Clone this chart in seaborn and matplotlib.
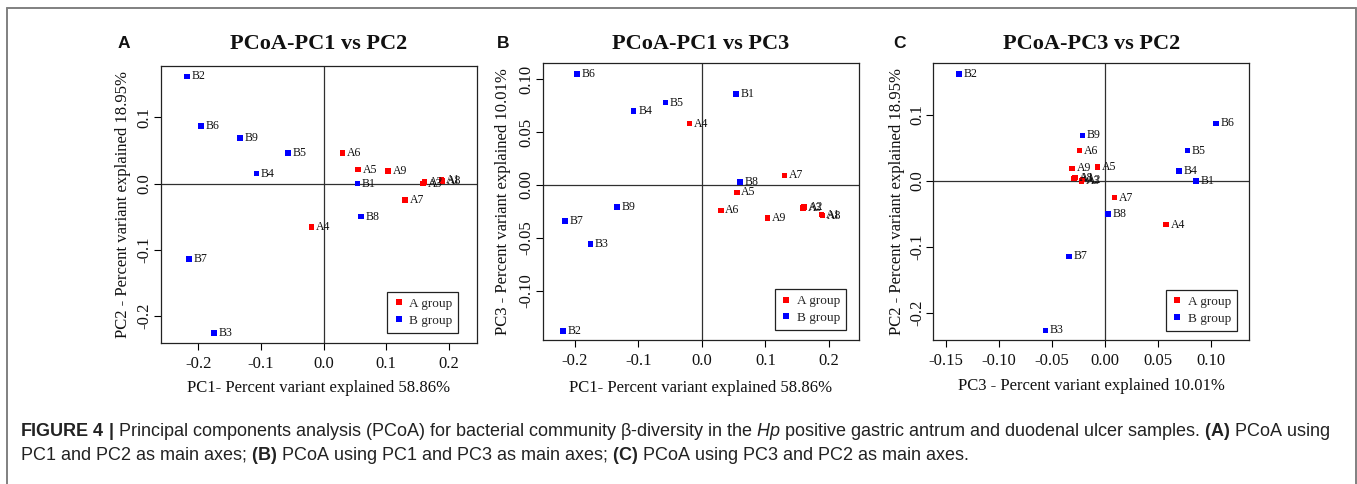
import matplotlib
matplotlib.use("Agg")
import matplotlib.pyplot as plt
import seaborn as sns
import pandas as pd
from matplotlib.lines import Line2D

# sample scores
samples = ['A1', 'A2', 'A3', 'A4', 'A5', 'A6', 'A7', 'A8', 'A9',
           'B1', 'B2', 'B3', 'B4', 'B5', 'B6', 'B7', 'B8', 'B9']
groups = ['A group'] * 9 + ['B group'] * 9
pc1 = [0.188, 0.161, 0.159, -0.019, 0.055, 0.030, 0.130, 0.190, 0.103,
       0.054, -0.218, -0.175, -0.107, -0.057, -0.196, -0.215, 0.060, -0.133]
pc2 = [0.005, 0.002, 0.000, -0.066, 0.021, 0.046, -0.025, 0.004, 0.019,
       0.000, 0.162, -0.226, 0.015, 0.046, 0.087, -0.114, -0.050, 0.069]
pc3 = [-0.028, -0.021, -0.022, 0.058, -0.007, -0.024, 0.009, -0.029, -0.031,
       0.086, -0.138, -0.056, 0.070, 0.078, 0.105, -0.034, 0.003, -0.021]

pc12_ticks = [-0.2, -0.1, 0.0, 0.1, 0.2]
pc12_labels = ['-0.2', '-0.1', '0.0', '0.1', '0.2']
pc2_ticks = [-0.2, -0.1, 0.0, 0.1]
pc2_labels = ['-0.2', '-0.1', '0.0', '0.1']
pc3y_ticks = [-0.10, -0.05, 0.0, 0.05, 0.10]
pc3y_labels = ['-0.10', '-0.05', '0.00', '0.05', '0.10']
pc3x_ticks = [-0.15, -0.10, -0.05, 0.0, 0.05, 0.10]
pc3x_labels = ['-0.15', '-0.10', '-0.05', '0.00', '0.05', '0.10']

df = pd.DataFrame({'sample': samples, 'group': groups,
                   'PC1': pc1, 'PC2': pc2, 'PC3': pc3})
colors = {'A group': '#ff0000', 'B group': '#0000ff'}

sns.set_theme(style='white')
plt.rcParams['font.family'] = ['Liberation Serif', 'DejaVu Serif']
plt.rcParams['axes.unicode_minus'] = False
plt.rcParams['mathtext.fontset'] = 'custom'
plt.rcParams['mathtext.rm'] = 'Liberation Sans'
plt.rcParams['mathtext.bf'] = 'Liberation Sans:bold'
plt.rcParams['mathtext.it'] = 'Liberation Sans:italic'

fig = plt.figure(figsize=(13.57, 4.84), dpi=100)

panels = [
    dict(letter='A', title='PCoA-PC1 vs PC2', x='PC1', y='PC2',
         pos=[0.1186, 0.2913, 0.2329, 0.5723],
         xlim=(-0.2595, 0.2447), ylim=(-0.2408, 0.1775),
         xt=pc12_ticks, xtl=pc12_labels, yt=pc2_ticks, ytl=pc2_labels,
         xlabel='PC1- Percent variant explained 58.86%',
         ylabel='PC2 - Percent variant explained 18.95%',
         leg=(0.941, 0.037), ylx=-0.095, xly=-0.133, lx=0.087),
    dict(letter='B', title='PCoA-PC1 vs PC3', x='PC1', y='PC3',
         pos=[0.4001, 0.2975, 0.2329, 0.5717],
         xlim=(-0.2496, 0.247), ylim=(-0.1467, 0.1151),
         xt=pc12_ticks, xtl=pc12_labels, yt=pc3y_ticks, ytl=pc3y_labels,
         xlabel='PC1- Percent variant explained 58.86%',
         ylabel='PC3 - Percent variant explained 10.01%',
         leg=(0.959, 0.036), ylx=-0.101, xly=-0.146, lx=0.366),
    dict(letter='C', title='PCoA-PC3 vs PC2', x='PC3', y='PC2',
         pos=[0.6878, 0.2975, 0.2329, 0.5717],
         xlim=(-0.162, 0.1365), ylim=(-0.2404, 0.178),
         xt=pc3x_ticks, xtl=pc3x_labels, yt=pc2_ticks, ytl=pc2_labels,
         xlabel='PC3 - Percent variant explained 10.01%',
         ylabel='PC2 - Percent variant explained 18.95%',
         leg=(0.960, 0.033), ylx=-0.091, xly=-0.139, lx=0.658),
]

for p in panels:
    ax = fig.add_axes(p['pos'])
    ax.axhline(0, color='#303030', lw=0.9, zorder=1)
    ax.axvline(0, color='#303030', lw=0.9, zorder=1)
    sns.scatterplot(data=df, x=p['x'], y=p['y'], hue='group', palette=colors,
                    marker='s', s=16, linewidth=0, legend=False, ax=ax, zorder=3)
    for _, r in df.iterrows():
        ax.annotate(r['sample'], (r[p['x']], r[p['y']]), xytext=(3.2, 0),
                    textcoords='offset points', ha='left', va='center',
                    fontsize=8.5, color='#111111', zorder=4)
    ax.set_xlim(p['xlim'])
    ax.set_ylim(p['ylim'])
    ax.set_xticks(p['xt'])
    ax.set_xticklabels(p['xtl'])
    ax.set_yticks(p['yt'])
    ax.set_yticklabels(p['ytl'], rotation=90, va='center')
    ax.tick_params(axis='both', direction='out', length=5, width=0.8,
                   color='black', labelsize=12, labelcolor='#111111',
                   bottom=True, left=True, pad=4)
    ax.tick_params(axis='y', pad=1)
    for sp in ax.spines.values():
        sp.set_color('#222222')
        sp.set_linewidth(0.9)
    ax.set_xlabel(p['xlabel'], fontsize=12, color='#111111')
    ax.set_ylabel(p['ylabel'], fontsize=12, color='#111111')
    ax.yaxis.set_label_coords(p['ylx'], 0.5)
    ax.xaxis.set_label_coords(0.5, p['xly'])
    handles = [Line2D([], [], ls='', marker='s', ms=4.8, mew=0, color=colors[g])
               for g in ['A group', 'B group']]
    ax.legend(handles, ['A group', 'B group'], loc='lower right',
              bbox_to_anchor=p['leg'], borderaxespad=0, fontsize=9.5,
              frameon=True, fancybox=False, edgecolor='#222222',
              framealpha=1, handlelength=0.8, handletextpad=0.4,
              borderpad=0.45, labelspacing=0.35)
    ax.get_legend().get_frame().set_linewidth(0.9)
    cx = p['pos'][0] + p['pos'][2] / 2
    fig.text(cx, 0.91, p['title'], ha='center', va='center',
             fontsize=16, fontweight='bold', color='#111111')
    fig.text(p['lx'], 0.91, p['letter'], ha='left', va='center',
             fontsize=12.5, fontweight='bold', family='Liberation Sans',
             color='#111111')

# outer frame
fig.add_artist(Line2D([0.0054, 0.0054], [0.0, 0.983], color='#808080', lw=1.4))
fig.add_artist(Line2D([0.0054, 0.999], [0.983, 0.983], color='#808080', lw=1.4))
fig.add_artist(Line2D([0.999, 0.999], [0.0, 0.983], color='#808080', lw=1.4))

cap1 = (r'$\bf{FIGURE\ 4\ |}$ Principal components analysis (PCoA) for bacterial '
        r'community β-diversity in the $\it{Hp}$ positive gastric antrum and '
        r'duodenal ulcer samples. $\bf{(A)}$ PCoA using')
cap2 = (r'PC1 and PC2 as main axes; $\bf{(B)}$ PCoA using PC1 and PC3 as main '
        r'axes; $\bf{(C)}$ PCoA using PC3 and PC2 as main axes.')
fig.text(0.0147, 1 - 432 / 484, cap1, ha='left', va='center', fontsize=13,
         family='Liberation Sans', color='#222222')
fig.text(0.0147, 1 - 456 / 484, cap2, ha='left', va='center', fontsize=13,
         family='Liberation Sans', color='#222222')

fig.savefig('out.png', dpi=100)
